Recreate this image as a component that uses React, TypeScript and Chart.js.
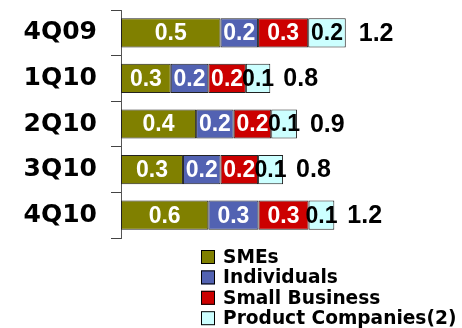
import { useEffect, useRef } from "react";
import { Chart, registerables } from "chart.js";
Chart.register(...registerables);

const categories = ["4Q09", "1Q10", "2Q10", "3Q10", "4Q10"];
const seriesNames = ["SMEs", "Individuals", "Small Business", "Product Companies(2)"];
const smes = [0.53, 0.265, 0.4, 0.33, 0.465];
const individuals = [0.2, 0.2, 0.2, 0.2, 0.267];
const smallBusiness = [0.267, 0.2, 0.2, 0.2, 0.267];
const productCompanies = [0.2, 0.13, 0.137, 0.133, 0.137];
const smesLabels = ["0.5", "0.3", "0.4", "0.3", "0.6"];
const individualsLabels = ["0.2", "0.2", "0.2", "0.2", "0.3"];
const smallBusinessLabels = ["0.3", "0.2", "0.2", "0.2", "0.3"];
const productCompaniesLabels = ["0.2", "0.1", "0.1", "0.1", "0.1"];
const totalLabels = ["1.2", "0.8", "0.9", "0.8", "1.2"];
const colors = ["#808000", "#5262B2", "#CC0000", "#CCFFFF"];
const labelColors = ["#FFFFFF", "#FFFFFF", "#FFFFFF", "#000000"];

const seriesValues = [smes, individuals, smallBusiness, productCompanies];
const seriesLabels = [smesLabels, individualsLabels, smallBusinessLabels, productCompaniesLabels];

const labelPlugin = {
  id: "customLabels",
  afterDatasetsDraw(chart: any) {
    const ctx = chart.ctx;
    ctx.save();
    ctx.textBaseline = "middle";
    chart.data.datasets.forEach((_ds: any, di: number) => {
      const meta = chart.getDatasetMeta(di);
      meta.data.forEach((bar: any, i: number) => {
        const { x, base, y } = bar.getProps(["x", "base", "y"], true);
        ctx.font = "bold 23px 'Liberation Sans', Arial, sans-serif";
        ctx.fillStyle = labelColors[di];
        ctx.textAlign = "center";
        ctx.fillText(seriesLabels[di][i], (x + base) / 2, y + 1);
      });
    });
    const last = chart.getDatasetMeta(chart.data.datasets.length - 1);
    last.data.forEach((bar: any, i: number) => {
      ctx.font = "bold 25px 'Liberation Sans', Arial, sans-serif";
      ctx.fillStyle = "#000";
      ctx.textAlign = "left";
      ctx.fillText(totalLabels[i], bar.x + 13, bar.y + 1);
    });
    // legend
    const lx = 201;
    const ly0 = 257;
    const step = 20.4;
    chart.data.datasets.forEach((ds: any, di: number) => {
      const cy = ly0 + di * step;
      ctx.fillStyle = colors[di];
      ctx.fillRect(lx, cy - 7, 14, 14);
      ctx.strokeStyle = "#000";
      ctx.lineWidth = 1;
      ctx.strokeRect(lx + 0.5, cy - 6.5, 13, 13);
      ctx.font = "bold 18.6px 'DejaVu Sans', sans-serif";
      ctx.fillStyle = "#000";
      ctx.textAlign = "left";
      ctx.fillText(ds.label, lx + 22, cy + 1);
    });
    ctx.restore();
  },
};

export default function App() {
  const ref = useRef<HTMLCanvasElement | null>(null);
  useEffect(() => {
    if (!ref.current) return;
    const chart = new Chart(ref.current, {
      type: "bar",
      data: {
        labels: categories,
        datasets: seriesNames.map((name, i) => ({
          label: name,
          data: seriesValues[i],
          backgroundColor: colors[i],
          borderColor: "#222",
          borderWidth: 1,
          borderSkipped: false,
          categoryPercentage: 1,
          barPercentage: 0.64,
        })),
      },
      options: {
        indexAxis: "y",
        animation: false,
        responsive: false,
        maintainAspectRatio: false,
        layout: { padding: { left: 10, top: 10, right: 3, bottom: 90 } },
        plugins: { legend: { display: false }, tooltip: { enabled: false } },
        scales: {
          x: { stacked: true, display: false, min: 0, max: 1.8 },
          y: {
            stacked: true,
            afterFit: (s: any) => {
              s.width = 111;
              s.paddingTop = 0;
              s.paddingBottom = 0;
            },
            grid: {
              offset: true,
              drawOnChartArea: false,
              drawTicks: true,
              tickLength: 10,
              color: "#444",
            },
            border: { display: true, color: "#555", width: 1 },
            ticks: {
              color: "#000",
              padding: 14,
              font: { family: "'DejaVu Sans', sans-serif", size: 25, weight: "bold" },
            },
          },
        },
      },
      plugins: [labelPlugin],
    } as any);
    return () => chart.destroy();
  }, []);
  return (
    <div style={{ position: "absolute", left: 0, top: 0, width: 462, height: 328, background: "#fff" }}>
      <canvas ref={ref} width={462} height={328} style={{ width: 462, height: 328 }} />
    </div>
  );
}
